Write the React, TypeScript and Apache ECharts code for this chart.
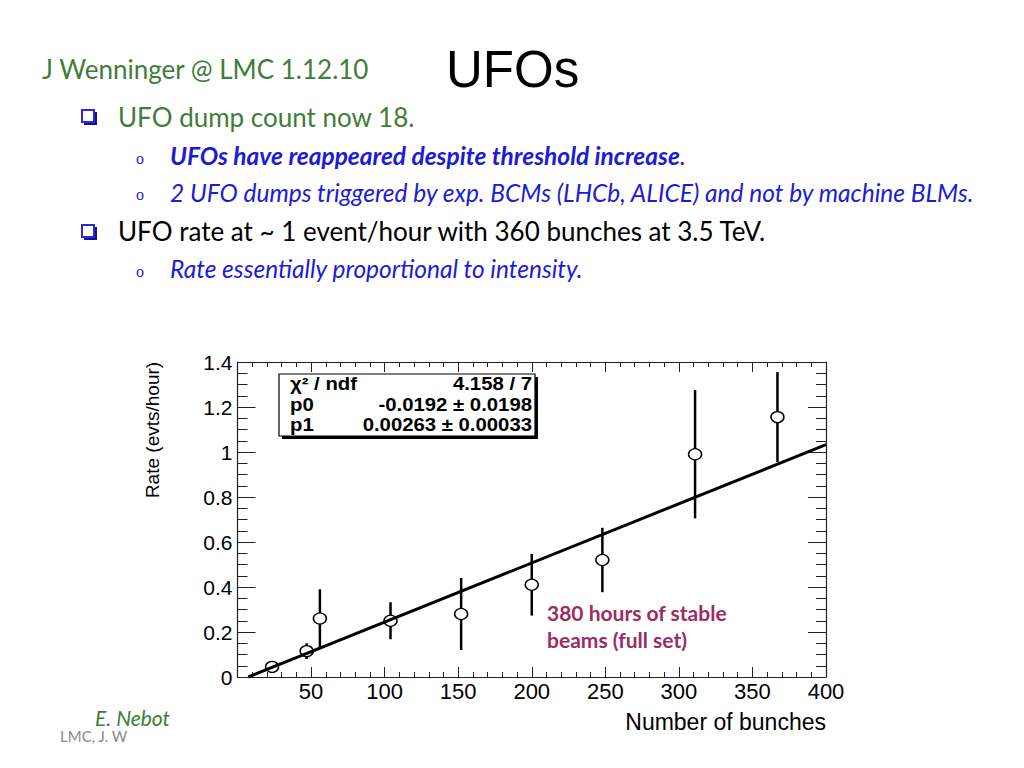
import React, { useEffect, useRef } from "react";
import * as echarts from "echarts";

// Data
const bunches = [23.5, 47, 56, 104, 152, 200, 248, 311, 367];
const rates = [0.045, 0.115, 0.26, 0.25, 0.28, 0.41, 0.52, 0.99, 1.155];
const rateErrors = [0.015, 0.035, 0.13, 0.082, 0.16, 0.137, 0.143, 0.285, 0.2];
const fitX = [7.3, 400];
const fitY = [0, 1.033];
const statsLabels = ["χ² / ndf", "p0", "p1"];
const statsValues = ["4.158 / 7", "-0.0192 ± 0.0198", "0.00263 ± 0.00033"];

const GREEN = "#3f7d38";
const BLUE = "#1c1cd6";
const SANS = "Lato, 'Open Sans', sans-serif";
const ARIAL = "'Liberation Sans', Arial, sans-serif";

export default function App() {
  const ref = useRef<HTMLDivElement>(null);
  useEffect(() => {
    if (!ref.current) return;
    const chart = echarts.init(ref.current, null, { renderer: "svg" });

    const points = bunches.map((x, i) => [x, rates[i]]);
    const errData = bunches.map((x, i) => [x, rates[i], rateErrors[i]]);
    const fitData = fitX.map((x, i) => [x, fitY[i]]);

    const axisCommon = {
      type: "value",
      splitLine: { show: false },
      axisLine: { show: true, onZero: false, lineStyle: { color: "#222", width: 1.2 } },
    };

    const bulletSquare = (y: number) => [
      { type: "rect", shape: { x: 84, y: y - 5, width: 13, height: 13 }, style: { fill: "#1010a0" }, z: 1 },
      { type: "rect", shape: { x: 82, y: y - 7, width: 12, height: 12 }, style: { fill: "#fff", stroke: "#2a2ad8", lineWidth: 2 }, z: 2 },
    ];
    const subBullet = (y: number) => ({
      type: "text",
      x: 140,
      y,
      style: { text: "o", fontFamily: "'Liberation Serif', serif", fontSize: 16, fill: BLUE, align: "center", verticalAlign: "middle" },
    });

    const graphics: any[] = [
      { type: "text", x: 42, y: 69, style: { text: "J Wenninger @ LMC 1.12.10", fontFamily: SANS, fontSize: 26, fill: GREEN, align: "left", verticalAlign: "middle" } },
      { type: "text", x: 446, y: 69, style: { text: "UFOs", fontFamily: ARIAL, fontSize: 51, fill: "#000", align: "left", verticalAlign: "middle" } },
      ...bulletSquare(117),
      { type: "text", x: 118, y: 117, style: { text: "UFO dump count now 18.", fontFamily: SANS, fontSize: 26, fill: GREEN, align: "left", verticalAlign: "middle" } },
      subBullet(158),
      {
        type: "text", x: 170, y: 155,
        style: {
          text: "{b|UFOs have reappeared despite threshold increase}{n|.}",
          align: "left", verticalAlign: "middle",
          rich: {
            b: { fontFamily: SANS, fontSize: 24.5, fontStyle: "italic", fontWeight: "bold", fill: BLUE },
            n: { fontFamily: SANS, fontSize: 24.5, fontStyle: "italic", fill: BLUE },
          },
        },
      },
      subBullet(194),
      { type: "text", x: 170, y: 192, style: { text: "2 UFO dumps triggered by exp. BCMs (LHCb, ALICE) and not by machine BLMs.", fontFamily: SANS, fontSize: 24.5, fontStyle: "italic", fill: BLUE, align: "left", verticalAlign: "middle" } },
      ...bulletSquare(232),
      { type: "text", x: 118, y: 231, style: { text: "UFO rate at ~ 1 event/hour with 360 bunches at 3.5 TeV.", fontFamily: SANS, fontSize: 26, fill: "#000", align: "left", verticalAlign: "middle" } },
      subBullet(271),
      { type: "text", x: 170, y: 268, style: { text: "Rate essentially proportional to intensity.", fontFamily: SANS, fontSize: 24.5, fontStyle: "italic", fill: BLUE, align: "left", verticalAlign: "middle" } },
      // axis titles
      { type: "text", x: 152, y: 430, rotation: Math.PI / 2, style: { text: "Rate (evts/hour)", fontFamily: ARIAL, fontSize: 19, fill: "#000", align: "center", verticalAlign: "middle" } },
      { type: "text", x: 826, y: 722, style: { text: "Number of bunches", fontFamily: ARIAL, fontSize: 23, fill: "#000", align: "right", verticalAlign: "middle" } },
      // stats box
      { type: "rect", z: 10, shape: { x: 282, y: 377, width: 256, height: 62 }, style: { fill: "#000" } },
      { type: "rect", z: 11, shape: { x: 279, y: 374, width: 256, height: 62 }, style: { fill: "#fff", stroke: "#000", lineWidth: 1.2 } },
      ...statsLabels.flatMap((label, i) => [
        { type: "text", x: 290, y: 384 + i * 20.5, scaleX: 1.13, z: 12, style: { text: label, fontFamily: ARIAL, fontSize: 18, fontWeight: "bold", fill: "#000", align: "left", verticalAlign: "middle" } },
        { type: "text", x: 532, y: 384 + i * 20.5, scaleX: 1.13, z: 12, style: { text: statsValues[i], fontFamily: ARIAL, fontSize: 18, fontWeight: "bold", fill: "#000", align: "right", verticalAlign: "middle" } },
      ]),
      // annotation
      { type: "text", x: 547, y: 612, z: 12, style: { text: "380 hours of stable", fontFamily: SANS, fontSize: 21, fontWeight: "bold", fill: "#9b2d62", align: "left", verticalAlign: "middle" } },
      { type: "text", x: 547, y: 639, z: 12, style: { text: "beams (full set)", fontFamily: SANS, fontSize: 21, fontWeight: "bold", fill: "#9b2d62", align: "left", verticalAlign: "middle" } },
      // footer
      { type: "text", x: 95, y: 717, style: { text: "E. Nebot", fontFamily: SANS, fontSize: 21, fontStyle: "italic", fill: GREEN, align: "left", verticalAlign: "middle" } },
      { type: "text", x: 60, y: 736, style: { text: "LMC, J. W", fontFamily: SANS, fontSize: 15, fill: "#8a8a8a", align: "left", verticalAlign: "middle" } },
    ];

    chart.setOption({
      animation: false,
      backgroundColor: "#fff",
      grid: { left: 237.5, right: 198, top: 362, bottom: 91, containLabel: false },
      xAxis: [
        {
          ...axisCommon,
          position: "bottom",
          min: 0, max: 400, interval: 50,
          axisTick: { show: true, inside: true, length: 10, lineStyle: { color: "#222" } },
          minorTick: { show: true, splitNumber: 5, length: 5, lineStyle: { color: "#222" } },
          axisLabel: { showMinLabel: false, fontFamily: ARIAL, fontSize: 22, color: "#000", margin: 3 },
        },
        {
          ...axisCommon,
          position: "top",
          min: 0, max: 400, interval: 50,
          axisTick: { show: true, inside: true, length: 10, lineStyle: { color: "#222" } },
          minorTick: { show: true, splitNumber: 5, length: 5, lineStyle: { color: "#222" } },
          axisLabel: { show: false },
        },
      ],
      yAxis: [
        {
          ...axisCommon,
          position: "left",
          min: 0, max: 1.4, interval: 0.2,
          axisTick: { show: true, inside: true, length: 18, lineStyle: { color: "#222" } },
          minorTick: { show: true, splitNumber: 4, length: 10, lineStyle: { color: "#222" } },
          axisLabel: { fontFamily: ARIAL, fontSize: 21, color: "#000", margin: 5 },
        },
        {
          ...axisCommon,
          position: "right",
          min: 0, max: 1.4, interval: 0.2,
          axisTick: { show: true, inside: true, length: 18, lineStyle: { color: "#222" } },
          minorTick: { show: true, splitNumber: 4, length: 10, lineStyle: { color: "#222" } },
          axisLabel: { show: false },
        },
      ],
      series: [
        {
          type: "custom",
          xAxisIndex: 0,
          yAxisIndex: 0,
          z: 2,
          data: errData,
          renderItem: (_params: any, api: any) => {
            const x = api.value(0);
            const y = api.value(1);
            const e = api.value(2);
            const lo = api.coord([x, y - e]);
            const hi = api.coord([x, y + e]);
            return {
              type: "line",
              shape: { x1: lo[0], y1: lo[1], x2: hi[0], y2: hi[1] },
              style: { stroke: "#000", lineWidth: 2.5 },
            };
          },
        },
        {
          type: "scatter",
          z: 3,
          data: points,
          symbol: "circle",
          symbolSize: [13, 11],
          itemStyle: { color: "#fff", borderColor: "#000", borderWidth: 1.4, opacity: 1 },
        },
        {
          type: "line",
          z: 4,
          data: fitData,
          symbol: "none",
          lineStyle: { color: "#000", width: 3 },
        },
      ],
      graphic: graphics,
    });

    return () => chart.dispose();
  }, []);

  return <div ref={ref} style={{ position: "absolute", left: 0, top: 0, width: 1024, height: 768 }} />;
}
